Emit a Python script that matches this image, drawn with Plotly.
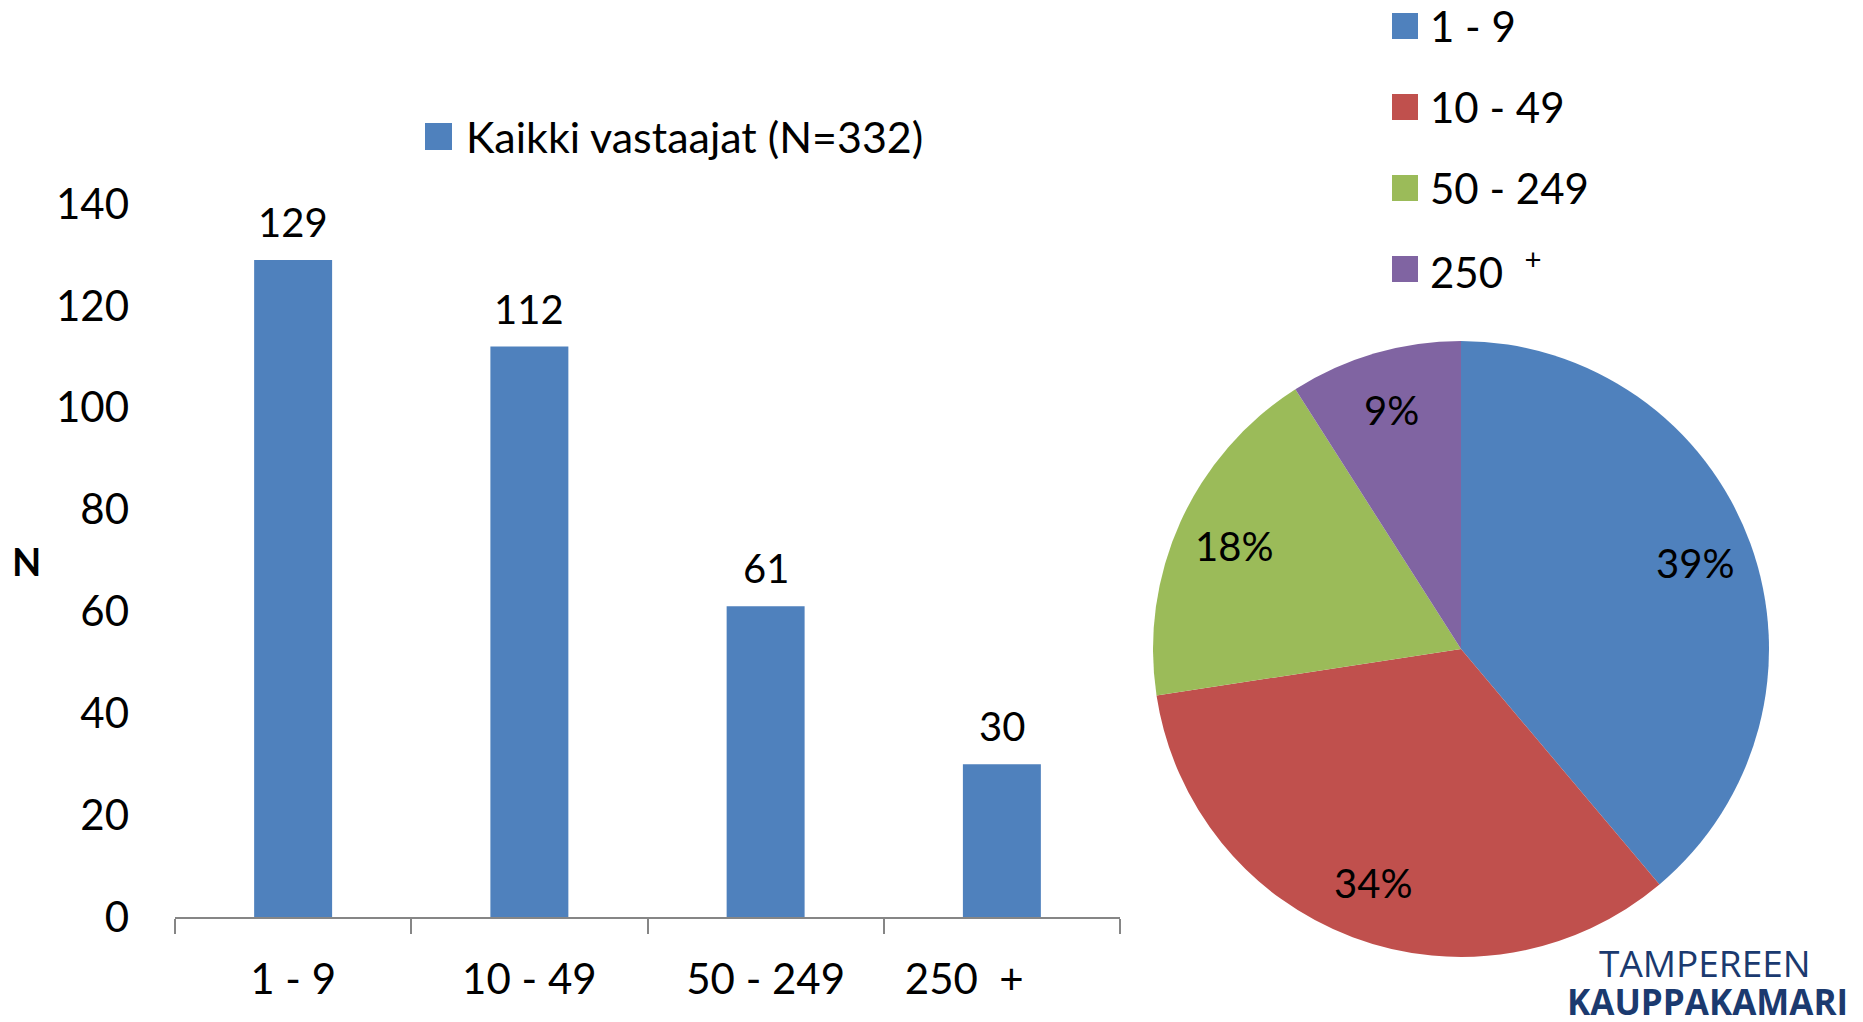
import math
import plotly.graph_objects as go

W, H = 1863, 1022
OFF = 8  # default body margin of the html page

# data
categories = ["1 - 9", "10 - 49", "50 - 249", "250 +"]
tick_text = ["1 - 9", "10 - 49", "50 - 249", "250\u00a0\u00a0+" + "\u00a0" * 7]
counts = [129, 112, 61, 30]
series_name = "Kaikki vastaajat (N=332)"
pie_labels = ["1 - 9", "10 - 49", "50 - 249", "250  <sup>+</sup>"]
pie_colors = ["#4F81BD", "#C0504D", "#9BBB59", "#8064A2"]
y_ticks = [0, 20, 40, 60, 80, 100, 120, 140]

FONT = "Lato, 'Open Sans', sans-serif"
GREY = "#868686"

# pie placement (pixels)
PIE_CX, PIE_CY, PIE_R = 1461, 649, 308


def px(x):
    return (x - OFF) / W


def py(y):
    return 1 - (y - OFF) / H


fig = go.Figure()

fig.add_trace(
    go.Bar(
        x=categories,
        y=counts,
        width=0.33,
        marker=dict(color=pie_colors[0], line_width=0),
        name=series_name,
        showlegend=False,
    )
)

fig.add_trace(
    go.Pie(
        labels=pie_labels,
        values=counts,
        marker=dict(colors=pie_colors, line=dict(width=0)),
        sort=False,
        direction="clockwise",
        rotation=0,
        textinfo="none",
        domain=dict(x=[px(PIE_CX - PIE_R), px(PIE_CX + PIE_R)],
                    y=[py(PIE_CY + PIE_R), py(PIE_CY - PIE_R)]),
        showlegend=False,
        hoverinfo="label+value+percent",
    )
)

shapes = []
annotations = []

# value labels above the bars
for cat, v in zip(categories, counts):
    annotations.append(dict(text=str(v), x=cat, y=v, xref="x", yref="y", yshift=38,
                            xanchor="center", yanchor="middle", showarrow=False,
                            font=dict(size=40, color="black", family=FONT)))

# percentage labels of the pie, placed along each slice's bisector
total = sum(counts)
acc = 0
for v in counts:
    theta = math.radians((acc + v / 2) / total * 360)
    acc += v
    rr = 0.81 * PIE_R
    annotations.append(dict(text=f"{round(100 * v / total)}%", xref="paper", yref="paper",
                            x=px(PIE_CX + rr * math.sin(theta)), y=py(PIE_CY - rr * math.cos(theta)),
                            xanchor="center", yanchor="middle", showarrow=False,
                            font=dict(size=40, color="black", family=FONT)))

# legend of the bar chart
shapes.append(dict(type="rect", xref="paper", yref="paper", x0=px(425), x1=px(452),
                   y0=py(150), y1=py(123), fillcolor=pie_colors[0], line_width=0))
annotations.append(dict(text=series_name, xref="paper", yref="paper", x=px(464), y=py(137),
                        xanchor="left", yanchor="middle", showarrow=False,
                        font=dict(size=43, color="black", family=FONT)))

# legend of the pie
for i, (lab, col) in enumerate(zip(pie_labels, pie_colors)):
    yc = 26 + i * 81
    shapes.append(dict(type="rect", xref="paper", yref="paper", x0=px(1392), x1=px(1418),
                       y0=py(yc + 13), y1=py(yc - 13), fillcolor=col, line_width=0))
    annotations.append(dict(text=lab, xref="paper", yref="paper", x=px(1428), y=py(yc),
                            xanchor="left", yanchor="middle", showarrow=False,
                            font=dict(size=42, color="black", family=FONT)))

# axis title
annotations.append(dict(text="<b>N</b>", xref="paper", yref="paper", x=px(26), y=py(561),
                        xanchor="center", yanchor="middle", showarrow=False,
                        font=dict(size=38, color="black", family=FONT)))

# logo text
annotations.append(dict(text="TAMPEREEN", xref="paper", yref="paper", x=px(1705), y=py(962),
                        xanchor="center", yanchor="middle", showarrow=False,
                        font=dict(size=37, color="#1B3A6F", family="'Open Sans', sans-serif")))
annotations.append(dict(text="<b>KAUPPAKAMARI</b>", xref="paper", yref="paper", x=px(1707), y=py(1001),
                        xanchor="center", yanchor="middle", showarrow=False,
                        font=dict(size=35, color="#1B3A6F", family="'Open Sans', sans-serif")))

fig.update_layout(
    width=W,
    height=H,
    margin=dict(l=0, r=0, t=0, b=0, autoexpand=False),
    paper_bgcolor="white",
    plot_bgcolor="white",
    font=dict(family=FONT, color="black"),
    shapes=shapes,
    annotations=annotations,
)
fig.update_xaxes(
    domain=[px(175), px(1120)],
    automargin=False,
    tickvals=categories,
    ticktext=tick_text,
    tickangle=0,
    showline=True,
    linecolor=GREY,
    linewidth=2,
    ticks="outside",
    tickson="boundaries",
    ticklen=15,
    tickwidth=2,
    tickcolor=GREY,
    tickfont=dict(size=42, color="black", family=FONT),
    ticklabelstandoff=25,
    showgrid=False,
    zeroline=False,
)
fig.update_yaxes(
    domain=[py(917), py(204)],
    automargin=False,
    range=[0, 140],
    tickvals=y_ticks,
    showline=False,
    showgrid=False,
    zeroline=False,
    ticks="",
    tickfont=dict(size=42, color="black", family=FONT),
    ticklabelstandoff=45,
)

fig.write_html("out.html")
